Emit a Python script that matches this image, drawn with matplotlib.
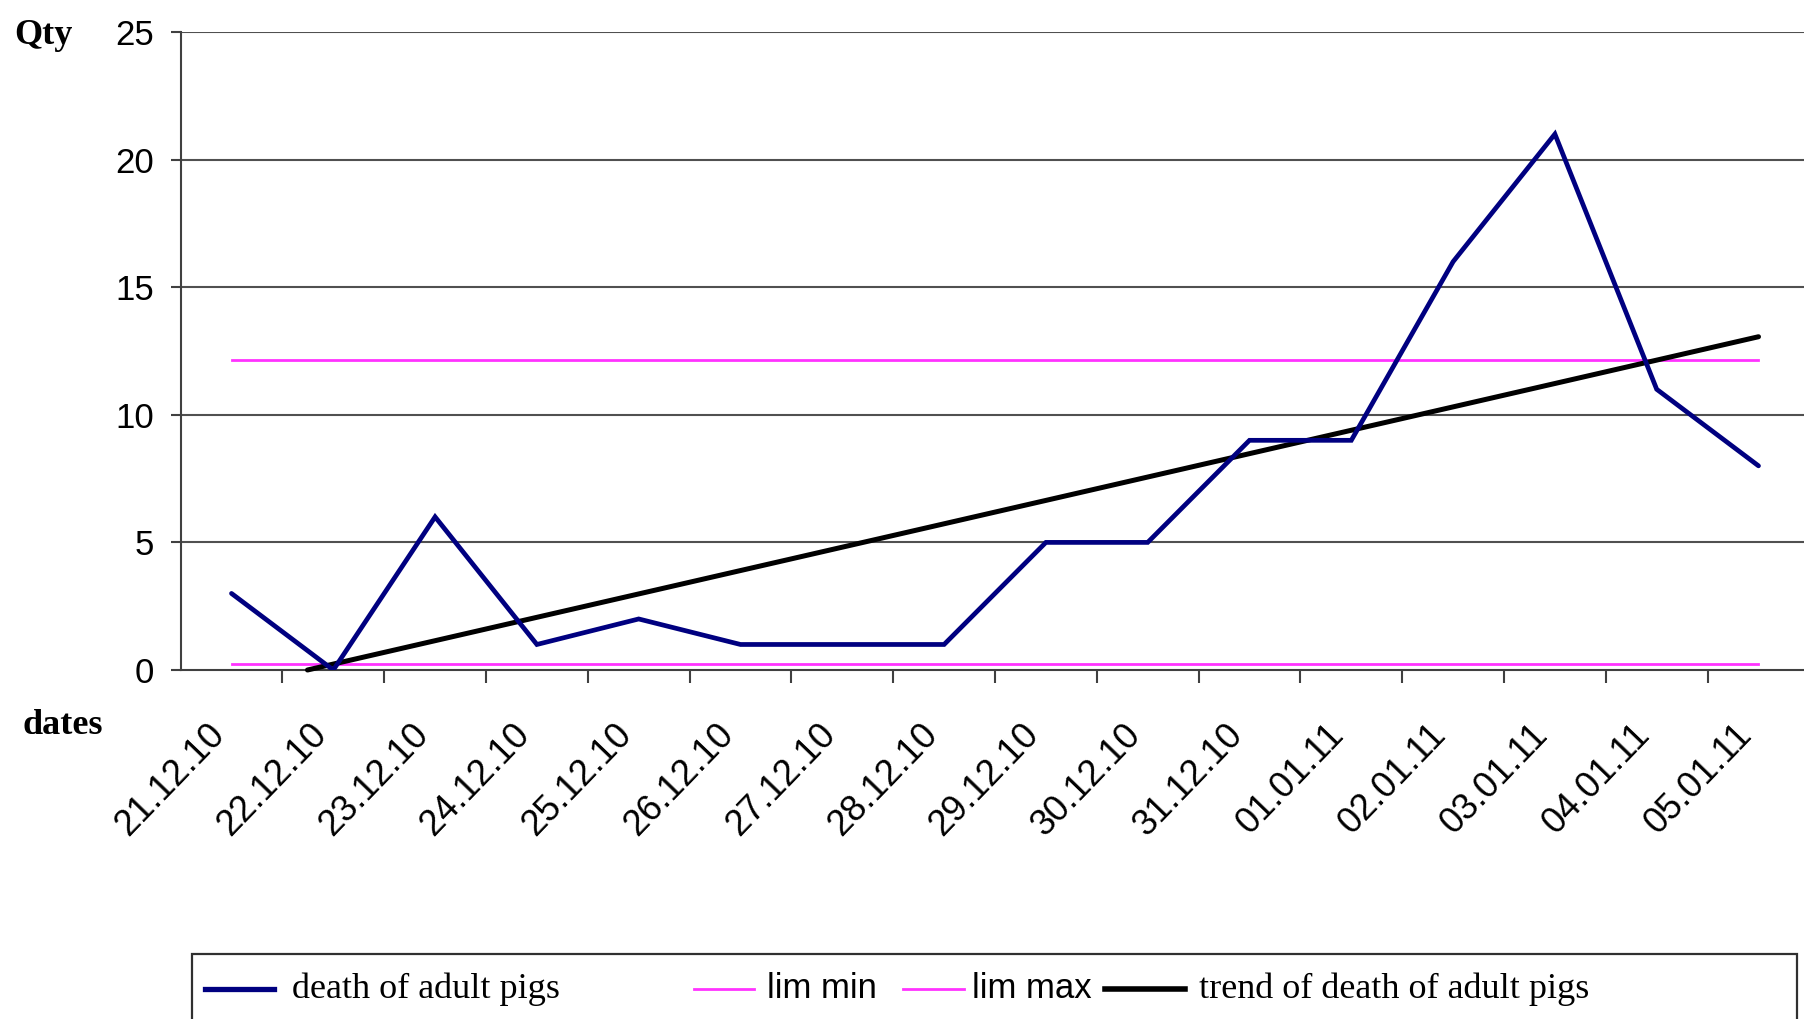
import numpy as np
import matplotlib
matplotlib.use("Agg")
import matplotlib.pyplot as plt
import matplotlib.transforms as mtransforms
from matplotlib.patches import Rectangle
from matplotlib.lines import Line2D

# ---- data ----
dates = ["21.12.10", "22.12.10", "23.12.10", "24.12.10", "25.12.10", "26.12.10",
         "27.12.10", "28.12.10", "29.12.10", "30.12.10", "31.12.10", "01.01.11",
         "02.01.11", "03.01.11", "04.01.11", "05.01.11"]
deaths = [3, 0, 6, 1, 2, 1, 1, 1, 5, 5, 9, 9, 16, 21, 11, 8]
lim_min = 0.25
lim_max = 12.15
y_ticks = [0, 5, 10, 15, 20, 25]

W, H = 1804, 1019
fig = plt.figure(figsize=(W / 100, H / 100), dpi=100)
x0, x_unit = 180.6, 101.8
y_top, y_zero = 32, 670
ax = fig.add_axes([x0 / W, 1 - y_zero / H, len(dates) * x_unit / W, (y_zero - y_top) / H])

xs = np.arange(len(dates)) + 0.5

# grid
for v in y_ticks[1:]:
    ax.axhline(v, color="#505050", lw=1.5, zorder=1)

# limits
ax.plot([xs[0], xs[-1]], [lim_min, lim_min], color="#ff33ff", lw=2.0, zorder=2)
ax.plot([xs[0], xs[-1]], [lim_max, lim_max], color="#ff33ff", lw=2.0, zorder=2)

# trend (linear fit, clipped at 0 like the original)
idx = np.arange(len(dates))
a, b = np.polyfit(idx, deaths, 1)
i_start = max(0.0, -b / a)
ti = np.array([i_start, idx[-1]])
ax.plot(ti + 0.5, a * ti + b, color="black", lw=3.6, zorder=3, clip_on=False,
        solid_capstyle="round")

# main series
ax.plot(xs, deaths, color="#000080", lw=3.4, zorder=4, solid_joinstyle="miter",
        solid_capstyle="round")

ax.set_xlim(0, len(dates))
ax.set_ylim(0, 25)

for s in ["top", "right"]:
    ax.spines[s].set_visible(False)
for s in ["left", "bottom"]:
    ax.spines[s].set_color("#404040")
    ax.spines[s].set_linewidth(1.5)

ax.set_yticks(y_ticks)
ax.set_yticklabels([str(v) for v in y_ticks], fontfamily="Liberation Sans", fontsize=25)
ax.tick_params(axis="y", length=7, width=1.5, color="#404040", pad=12)

ax.set_xticks(np.arange(1, len(dates) + 1))
ax.set_xticklabels([])
ax.set_xticks(xs, minor=True)
ax.set_xticklabels(dates, minor=True, rotation=46, ha="right", va="top",
                   rotation_mode="anchor", fontfamily="Liberation Sans", fontsize=26)
ax.tick_params(axis="x", which="major", length=9, width=1.5, color="#404040", direction="out")
ax.tick_params(axis="x", which="minor", length=0, pad=34)
offset = mtransforms.ScaledTranslation(-0.25, 0, fig.dpi_scale_trans)
for lbl in ax.xaxis.get_minorticklabels():
    lbl.set_transform(lbl.get_transform() + offset)

fig.text(14 / W, 1 - 35 / H, "Qty", fontfamily="Liberation Serif", fontweight="bold",
         fontsize=26, ha="left", va="center")
fig.text(23 / W, 1 - 725 / H, "dates", fontfamily="Liberation Serif", fontweight="bold",
         fontsize=26, ha="left", va="center")

# legend box (manual, matches original layout)
fig.patches.append(Rectangle((192 / W, -0.05), (1797 - 192) / W, (H - 954) / H + 0.05,
                             transform=fig.transFigure, fill=False, ec="#303030", lw=1.6))
ly = 1 - 989 / H
entries = [
    (205, 274, "#000080", 3.8, 292, "death of adult pigs", "Liberation Serif", 26),
    (694, 754, "#ff33ff", 2.0, 767, "lim min", "Liberation Sans", 25),
    (903, 964, "#ff33ff", 2.0, 972, "lim max", "Liberation Sans", 25),
    (1105, 1185, "black", 4.0, 1199, "trend of death of adult pigs", "Liberation Serif", 26),
]
for xa, xb, c, lw, tx, label, fam, fs in entries:
    fig.lines.append(Line2D([xa / W, xb / W], [ly, ly], transform=fig.transFigure,
                            color=c, lw=lw))
    fig.text(tx / W, ly, label, fontfamily=fam, fontsize=fs, ha="left", va="center")

fig.savefig("out.png", dpi=100)
